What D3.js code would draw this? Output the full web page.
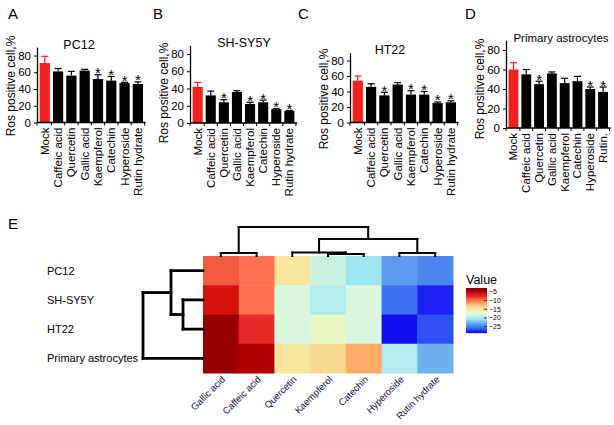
<!DOCTYPE html>
<html><head><meta charset="utf-8">
<script src="https://cdn.jsdelivr.net/npm/d3@7"></script>
<style>body{margin:0;background:#fff} text{font-family:"Liberation Sans",Arial,sans-serif;fill:#000}</style>
</head><body><svg id="c" width="614" height="425"></svg>
<script>
// ---------- data ----------
const categories = ["Mock","Caffeic acid","Quercetin","Gallic acid","Kaempferol","Catechin","Hyperoside","Rutin hydrate"];
const categoriesD = ["Mock","Caffeic acid","Quercetin","Gallic acid","Kaempferol","Catechin","Hyperoside","Rutin."];
const yTicks = [0,20,40,60,80];

const pc12Values = [71,61,56,62,52,50,47,46];
const pc12Err    = [8,3.5,5,1.5,5,5,1,2.5];
const pc12Sig    = [0,0,0,0,1,1,1,1];

const shValues = [42,32,24,36,22,24,16,14];
const shErr    = [5,5,3,1.5,2,2.5,0.8,0.6];
const shSig    = [0,0,1,0,1,1,1,1];

const htValues = [54,46,35,49,36,36,25,26];
const htErr    = [6,4,4,2.5,5,4,1.5,2];
const htSig    = [0,0,1,0,1,1,1,1];

const paValues = [60,55,45,56,46,48,40,37];
const paErr    = [7,5,3,1.5,5,5,2,5];
const paSig    = [0,0,1,0,0,0,1,1];

const heatRows = ["PC12","SH-SY5Y","HT22","Primary astrocytes"];
const heatCols = ["Gallic acid","Caffeic acid","Quercetin","Kaempferol","Catechin","Hyperoside","Rutin hydrate"];
const heatPC12 = [-9,-10,-15,-19,-21,-24,-25];
const heatSH   = [-6,-10,-18,-20,-18,-26,-28];
const heatHT   = [-4,-8,-18,-17,-18,-29,-27];
const heatPA   = [-4,-5,-15,-14,-12,-20,-23];
const legendTicks = [-5,-10,-15,-20,-25];

// dendrogram merges (hclust style: negative = leaf index, positive = earlier merge), height
const rowMerges = [[-2,-3,20],[-1,1,32],[-4,2,60]];
const colMerges = [[-1,-2,3],[-4,-5,2],[-3,2,3.5],[-6,-7,3],[3,4,17],[1,5,29]];

// colour ramp
const colorStops = [-3,-4,-5,-6,-8,-9,-10,-12,-14,-15,-17,-18,-19,-20,-21,-23,-24,-25,-26,-27,-28,-29];
const colorVals  = ["#7a0000","#940000","#b40000","#d81010","#e82a2a","#f25a3c","#ff7050","#ffaa66","#f9d98f","#f6e69b",
                    "#eaf8c6","#daf8df","#c9f4e2","#b2ecec","#a0e6ee","#70b2f0","#5c9cf0","#4a86f0","#3c70f0","#3050f0","#1c22f4","#1010ee"];

// ---------- drawing ----------
const svg = d3.select("#c");
const color = d3.scaleLinear().domain(colorStops).range(colorVals).clamp(true);

function letter(t,x,y){ svg.append("text").attr("x",x).attr("y",y).attr("font-size",15).text(t); }

function barPanel(cfg){
  const g = svg.append("g");
  const pi = 0.23, po = 0.2, n = cfg.cats.length;
  const x = d3.scaleBand().domain(cfg.cats)
      .range([cfg.ax, cfg.ax + cfg.step*(n - pi + 2*po)]).paddingInner(pi).paddingOuter(po);
  const y = d3.scaleLinear().domain([0,90]).range([cfg.y0, cfg.y0 - 90*cfg.k]);
  const data = cfg.cats.map((c,i)=>({c, v:cfg.values[i], e:cfg.err[i], s:cfg.sig[i], i}));
  g.selectAll("rect.bar").data(data).join("rect")
    .attr("x",d=>x(d.c)).attr("y",d=>y(d.v)).attr("width",x.bandwidth()).attr("height",d=>y(0)-y(d.v))
    .attr("fill",d=>d.i===0?"#f42020":"#000");
  const cx = d=>x(d.c)+x.bandwidth()/2;
  g.selectAll("line.eb").data(data).join("line")
    .attr("x1",cx).attr("x2",cx).attr("y1",d=>y(d.v)).attr("y2",d=>y(d.v+d.e))
    .attr("stroke",d=>d.i===0?"#f42020":"#000").attr("stroke-width",1.2);
  g.selectAll("line.cap").data(data).join("line")
    .attr("x1",d=>cx(d)-3.5).attr("x2",d=>cx(d)+3.5).attr("y1",d=>y(d.v+d.e)).attr("y2",d=>y(d.v+d.e))
    .attr("stroke",d=>d.i===0?"#f42020":"#000").attr("stroke-width",1.2);
  g.selectAll("text.star").data(data.filter(d=>d.s)).join("text")
    .attr("x",cx).attr("y",d=>y(d.v+d.e)+3.5).attr("text-anchor","middle").attr("font-size",15).text("*");
  const ya = g.append("g").attr("transform",`translate(${cfg.ax},0)`)
    .call(d3.axisLeft(y).tickValues(yTicks).tickSize(3).tickSizeOuter(0).tickPadding(3));
  ya.selectAll("text").attr("font-size",11.5).style("font-family","Liberation Sans, Arial, sans-serif");
  ya.select(".domain").attr("stroke-width",1.3);
  const r = x.range();
  g.append("line").attr("x1",cfg.ax).attr("x2",r[1]).attr("y1",y(0)).attr("y2",y(0)).attr("stroke","#000").attr("stroke-width",1.3);
  const bounds = [cfg.ax].concat(data.map(d=>x(d.c)+x.bandwidth()+x.step()*pi/2));
  g.selectAll("line.xt").data(bounds).join("line")
    .attr("x1",d=>d).attr("x2",d=>d).attr("y1",y(0)).attr("y2",y(0)+3).attr("stroke","#000");
  g.selectAll("text.xl").data(data).join("text")
    .attr("transform",d=>`translate(${cx(d)+4},${y(0)+5}) rotate(-90)`)
    .attr("text-anchor","end").attr("font-size",11.5).text(d=>d.c);
  g.append("text").attr("transform",`translate(${cfg.ax-22},${cfg.tcy}) rotate(-90)`)
    .attr("text-anchor","middle").attr("font-size",12).text("Ros positive cell,%");
  g.append("text").attr("x",cfg.titleX).attr("y",cfg.titleY).attr("text-anchor","middle")
    .attr("font-size",cfg.titleSize||12.5).text(cfg.title);
}

letter("A",8,19); letter("B",153,19); letter("C",298,19); letter("D",465,19);
barPanel({cats:categories, values:pc12Values, err:pc12Err, sig:pc12Sig, ax:37, y0:122.5, k:0.8375, step:13.3, title:"PC12", titleX:79, titleY:49, tcy:86});
barPanel({cats:categories, values:shValues, err:shErr, sig:shSig, ax:190, y0:123, k:0.8625, step:13.1, title:"SH-SY5Y", titleX:244, titleY:47, tcy:93});
barPanel({cats:categories, values:htValues, err:htErr, sig:htSig, ax:350, y0:122.5, k:0.775, step:13.3, title:"HT22", titleX:390, titleY:54, tcy:99});
barPanel({cats:categoriesD, values:paValues, err:paErr, sig:paSig, ax:506, y0:128, k:0.975, step:12.8, title:"Primary astrocytes", titleX:561, titleY:42, tcy:89, titleSize:11.5});

// ---------- heatmap ----------
letter("E",8,229);
const heatValues = [heatPC12, heatSH, heatHT, heatPA];
const hx = d3.scaleBand().domain(heatCols).range([203,453]);
const hy = d3.scaleBand().domain(heatRows).range([256,373]);
const cells = [];
heatRows.forEach((r,i)=>heatCols.forEach((c,j)=>cells.push({r,c,v:heatValues[i][j]})));
svg.append("g").selectAll("rect").data(cells).join("rect")
  .attr("x",d=>hx(d.c)).attr("y",d=>hy(d.r)).attr("width",hx.bandwidth()+0.5).attr("height",hy.bandwidth()+0.5)
  .attr("fill",d=>color(d.v));
svg.append("g").selectAll("text").data(heatRows).join("text")
  .attr("x",47).attr("y",d=>hy(d)+hy.bandwidth()/2+4).attr("font-size",11).text(d=>d);
svg.append("g").selectAll("text").data(heatCols).join("text")
  .attr("transform",d=>`translate(${hx(d)+hx.bandwidth()/2+5},${380}) rotate(-45)`)
  .attr("text-anchor","end").attr("font-size",9.5).style("fill","#15153a").text(d=>d);

function dendro(merges, leafPos, hScale, horizontal, width){
  const pos = [];
  const lines = [];
  const get = k=> k<0 ? {p:leafPos(-k-1), h:0} : pos[k-1];
  merges.forEach(m=>{
    const a = get(m[0]), b = get(m[1]), h = m[2];
    lines.push([a.p,a.h,a.p,h]); lines.push([b.p,b.h,b.p,h]); lines.push([a.p,h,b.p,h]);
    pos.push({p:(a.p+b.p)/2, h});
  });
  const g = svg.append("g").attr("stroke","#000").attr("stroke-width",width).attr("fill","none").attr("stroke-linecap","square");
  g.selectAll("line").data(lines).join("line")
    .attr("x1",d=>horizontal? hScale(d[1]) : d[0]).attr("y1",d=>horizontal? d[0] : hScale(d[1]))
    .attr("x2",d=>horizontal? hScale(d[3]) : d[2]).attr("y2",d=>horizontal? d[2] : hScale(d[3]));
}
dendro(rowMerges, i=>hy(heatRows[i])+hy.bandwidth()/2, d3.scaleLinear().domain([0,60]).range([203,143]), true, 2.8);
dendro(colMerges, i=>hx(heatCols[i])+hx.bandwidth()/2, d3.scaleLinear().domain([0,29]).range([256,227]), false, 2);

// legend
svg.append("text").attr("x",466).attr("y",284).attr("font-size",12.5).text("Value");
const ly = d3.scaleLinear().domain([-3,-29]).range([288,333]);
const steps = d3.range(288,333,1);
svg.append("g").selectAll("rect").data(steps).join("rect")
  .attr("x",466).attr("y",d=>d).attr("width",21).attr("height",1.2).attr("fill",d=>color(ly.invert(d+0.5)));
const la = svg.append("g").attr("transform","translate(487,0)")
  .call(d3.axisRight(ly).tickValues(legendTicks).tickSize(-3).tickSizeOuter(0).tickPadding(2));
la.select(".domain").remove();
la.selectAll("line").attr("stroke","#333");
la.selectAll("text").attr("font-size",7).style("font-family","Liberation Sans, Arial, sans-serif");
</script></body></html>
